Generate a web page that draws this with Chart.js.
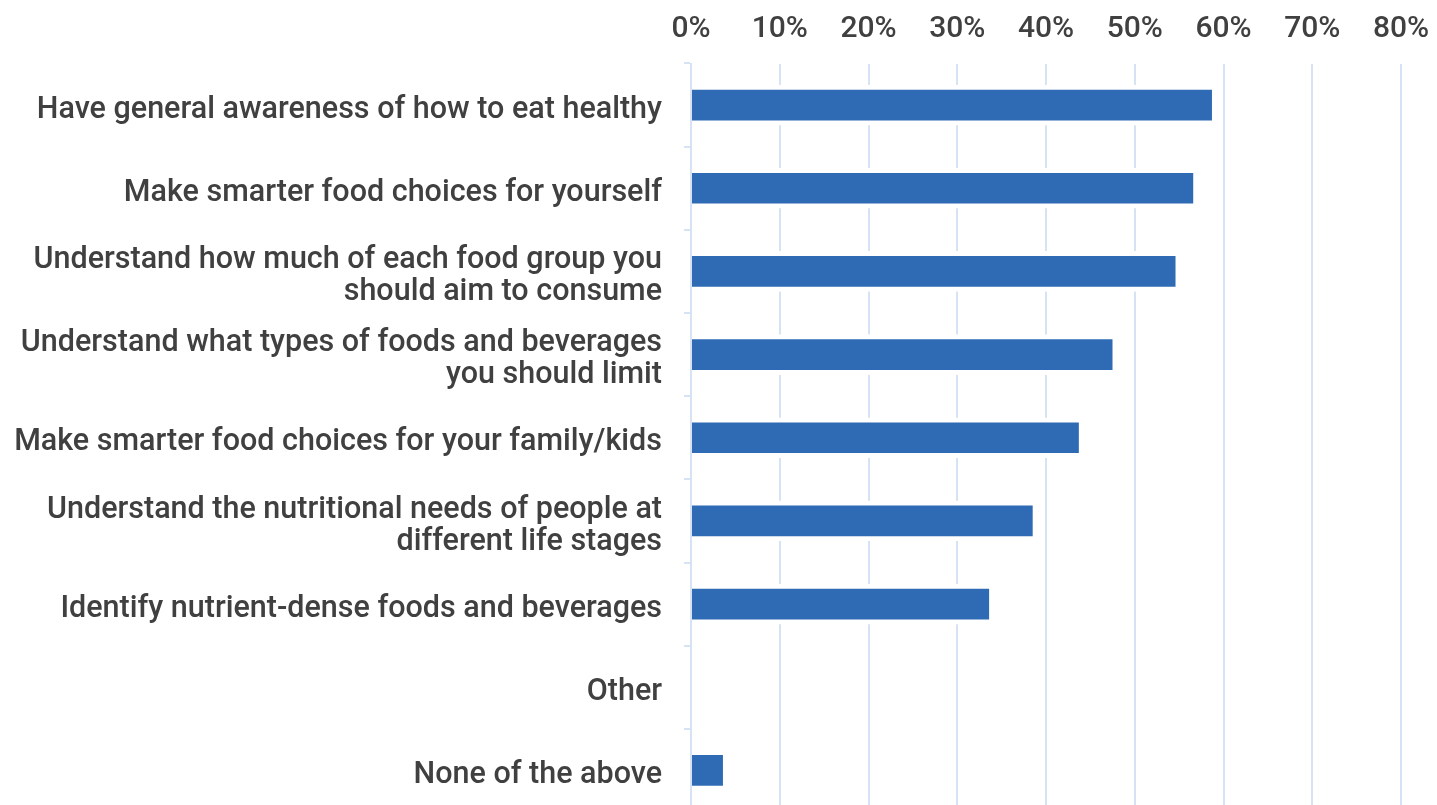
<!DOCTYPE html>
<html>
<head>
<meta charset="utf-8">
<script src="https://cdn.jsdelivr.net/npm/chart.js@4"></script>
<style>
  html, body { margin: 0; padding: 0; background: #ffffff; overflow: hidden; }
  #wrap { width: 1437px; height: 812px; }
</style>
</head>
<body>
<div id="wrap"><canvas id="chart" width="1437" height="812"></canvas></div>
<script>
// Survey answers: what the guidance helps people do
const categories = [
  "Have general awareness of how to eat healthy",
  "Make smarter food choices for yourself",
  ["Understand how much of each food group you", "should aim to consume"],
  ["Understand what types of foods and beverages", "you should limit"],
  "Make smarter food choices for your family/kids",
  ["Understand the nutritional needs of people at", "different life stages"],
  "Identify nutrient-dense foods and beverages",
  "Other",
  "None of the above"
];
const shares = [58.7, 56.6, 54.6, 47.5, 43.7, 38.5, 33.6, 0, 3.6];
const tickValues = [0, 10, 20, 30, 40, 50, 60, 70, 80];

const textColor = '#404040';
const gridColor = '#d6e3f4';
const barColor = '#2f6bb5';
const fontFamily = 'Roboto, "Liberation Sans", sans-serif';

new Chart(document.getElementById('chart'), {
  type: 'bar',
  data: {
    labels: categories,
    datasets: [{
      data: shares,
      backgroundColor: barColor,
      borderColor: '#ffffff',
      borderWidth: { top: 5, bottom: 5, left: 0, right: 0 },
      borderSkipped: false,
      barThickness: 40
    }]
  },
  options: {
    indexAxis: 'y',
    responsive: false,
    animation: false,
    layout: { padding: { left: 0, right: 36, top: 0, bottom: 0 } },
    plugins: { legend: { display: false }, tooltip: { enabled: false } },
    scales: {
      x: {
        position: 'top',
        min: 0,
        max: 80,
        afterBuildTicks: (scale) => { scale.ticks = tickValues.map(v => ({ value: v })); },
        afterFit: (scale) => {
          scale.height = 63.5;
          scale.paddingLeft = 0;
          scale.paddingRight = 0;
        },
        grid: { color: gridColor, lineWidth: 2, drawTicks: false },
        border: { display: false },
        ticks: {
          color: textColor,
          padding: 16,
          font: { family: fontFamily, size: 30, weight: 500 },
          callback: (v) => v + '%'
        }
      },
      y: {
        afterFit: (scale) => {
          scale.width = 691;
          scale.paddingTop = 0;
          scale.paddingBottom = 0;
        },
        grid: {
          offset: true,
          drawOnChartArea: false,
          drawTicks: true,
          tickLength: 7,
          color: gridColor,
          lineWidth: 2
        },
        border: { display: true, color: gridColor, width: 2 },
        ticks: {
          color: textColor,
          padding: 22,
          labelOffset: 5,
          autoSkip: false,
          font: { family: fontFamily, size: 30.5, weight: 500, lineHeight: 1.05 }
        }
      }
    }
  }
});
</script>
</body>
</html>
